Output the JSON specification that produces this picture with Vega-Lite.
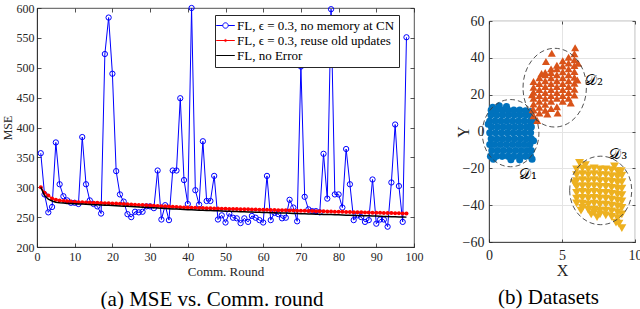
{
 "$schema": "https://vega.github.io/schema/vega-lite/v6.json",
 "background": "white",
 "padding": {"left": 0, "top": 1, "right": 1, "bottom": 0},
 "config": {
  "view": {"stroke": "#262626", "strokeWidth": 0.8},
  "font": "Liberation Serif",
  "axis": {"labelFont": "Liberation Serif", "titleFont": "Liberation Serif", "titleFontWeight": "normal", "labelColor": "#262626", "titleColor": "#262626", "domainColor": "#262626", "tickColor": "#262626", "domainWidth": 0.8, "tickWidth": 0.8, "labelFlush": false, "grid": false},
  "title": {"font": "Liberation Serif", "fontWeight": "normal", "color": "#000000"}
 },
 "datasets": {
  "mse": [
   {"round":1,"noMemory":357,"reuse":300,"noError":300},
   {"round":2,"noMemory":288,"reuse":291,"noError":286},
   {"round":3,"noMemory":258,"reuse":286,"noError":280},
   {"round":4,"noMemory":267,"reuse":281,"noError":277},
   {"round":5,"noMemory":375,"reuse":279,"noError":275},
   {"round":6,"noMemory":305,"reuse":278,"noError":274},
   {"round":7,"noMemory":285,"reuse":277,"noError":273.5},
   {"round":8,"noMemory":278,"reuse":276.5,"noError":273},
   {"round":9,"noMemory":274,"reuse":276,"noError":272.7},
   {"round":10,"noMemory":274,"reuse":275.5,"noError":272.4},
   {"round":11,"noMemory":272,"reuse":275,"noError":272.1},
   {"round":12,"noMemory":384,"reuse":274.8,"noError":271.8},
   {"round":13,"noMemory":305,"reuse":274.6,"noError":271.5},
   {"round":14,"noMemory":278,"reuse":274.4,"noError":271.2},
   {"round":15,"noMemory":272,"reuse":274.2,"noError":270.9},
   {"round":16,"noMemory":268,"reuse":274,"noError":270.6},
   {"round":17,"noMemory":256,"reuse":273.7,"noError":270.3},
   {"round":18,"noMemory":523,"reuse":273.4,"noError":270},
   {"round":19,"noMemory":584,"reuse":273.2,"noError":269.7},
   {"round":20,"noMemory":490,"reuse":273,"noError":269.4},
   {"round":21,"noMemory":327,"reuse":272.6,"noError":269},
   {"round":22,"noMemory":288,"reuse":272.3,"noError":268.7},
   {"round":23,"noMemory":276,"reuse":271.9,"noError":268.3},
   {"round":24,"noMemory":255,"reuse":271.6,"noError":268},
   {"round":25,"noMemory":250,"reuse":271.2,"noError":267.6},
   {"round":26,"noMemory":259,"reuse":270.9,"noError":267.3},
   {"round":27,"noMemory":258,"reuse":270.5,"noError":266.9},
   {"round":28,"noMemory":259,"reuse":270.2,"noError":266.6},
   {"round":29,"noMemory":268,"reuse":269.8,"noError":266.2},
   {"round":30,"noMemory":268,"reuse":269.5,"noError":265.9},
   {"round":31,"noMemory":265,"reuse":269.1,"noError":265.5},
   {"round":32,"noMemory":328,"reuse":268.8,"noError":265.2},
   {"round":33,"noMemory":246,"reuse":268.4,"noError":264.8},
   {"round":34,"noMemory":270,"reuse":268.1,"noError":264.5},
   {"round":35,"noMemory":245,"reuse":267.7,"noError":264.1},
   {"round":36,"noMemory":328,"reuse":267.4,"noError":263.8},
   {"round":37,"noMemory":328,"reuse":267,"noError":263.4},
   {"round":38,"noMemory":449,"reuse":266.7,"noError":263.1},
   {"round":39,"noMemory":312,"reuse":266.3,"noError":262.8},
   {"round":40,"noMemory":272,"reuse":266,"noError":262.5},
   {"round":41,"noMemory":600,"reuse":265.8,"noError":262.2},
   {"round":42,"noMemory":295,"reuse":265.6,"noError":262},
   {"round":43,"noMemory":271,"reuse":265.4,"noError":261.7},
   {"round":44,"noMemory":377,"reuse":265.2,"noError":261.5},
   {"round":45,"noMemory":277,"reuse":265,"noError":261.2},
   {"round":46,"noMemory":277,"reuse":264.8,"noError":261},
   {"round":47,"noMemory":319,"reuse":264.6,"noError":260.7},
   {"round":48,"noMemory":246,"reuse":264.4,"noError":260.5},
   {"round":49,"noMemory":253,"reuse":264.2,"noError":260.2},
   {"round":50,"noMemory":241,"reuse":264,"noError":260},
   {"round":51,"noMemory":256,"reuse":263.8,"noError":259.8},
   {"round":52,"noMemory":249,"reuse":263.7,"noError":259.6},
   {"round":53,"noMemory":248,"reuse":263.5,"noError":259.4},
   {"round":54,"noMemory":240,"reuse":263.3,"noError":259.2},
   {"round":55,"noMemory":248,"reuse":263.2,"noError":259},
   {"round":56,"noMemory":242,"reuse":263,"noError":258.7},
   {"round":57,"noMemory":252,"reuse":262.8,"noError":258.5},
   {"round":58,"noMemory":249,"reuse":262.7,"noError":258.3},
   {"round":59,"noMemory":245,"reuse":262.5,"noError":258.1},
   {"round":60,"noMemory":241,"reuse":262.3,"noError":257.9},
   {"round":61,"noMemory":319,"reuse":262.2,"noError":257.7},
   {"round":62,"noMemory":245,"reuse":262,"noError":257.5},
   {"round":63,"noMemory":257,"reuse":261.8,"noError":257.3},
   {"round":64,"noMemory":255,"reuse":261.7,"noError":257.1},
   {"round":65,"noMemory":248,"reuse":261.5,"noError":256.9},
   {"round":66,"noMemory":249,"reuse":261.3,"noError":256.7},
   {"round":67,"noMemory":279,"reuse":261.2,"noError":256.5},
   {"round":68,"noMemory":266,"reuse":261,"noError":256.2},
   {"round":69,"noMemory":243,"reuse":260.8,"noError":256},
   {"round":70,"noMemory":502,"reuse":260.7,"noError":255.8},
   {"round":71,"noMemory":284,"reuse":260.5,"noError":255.6},
   {"round":72,"noMemory":263,"reuse":260.3,"noError":255.4},
   {"round":73,"noMemory":260,"reuse":260.2,"noError":255.2},
   {"round":74,"noMemory":260,"reuse":260,"noError":255},
   {"round":75,"noMemory":258,"reuse":259.8,"noError":254.8},
   {"round":76,"noMemory":356,"reuse":259.7,"noError":254.6},
   {"round":77,"noMemory":281,"reuse":259.5,"noError":254.4},
   {"round":78,"noMemory":598,"reuse":259.3,"noError":254.2},
   {"round":79,"noMemory":288,"reuse":259.2,"noError":254},
   {"round":80,"noMemory":288,"reuse":259,"noError":253.8},
   {"round":81,"noMemory":266,"reuse":258.8,"noError":253.5},
   {"round":82,"noMemory":364,"reuse":258.7,"noError":253.3},
   {"round":83,"noMemory":305,"reuse":258.5,"noError":253.1},
   {"round":84,"noMemory":245,"reuse":258.3,"noError":252.9},
   {"round":85,"noMemory":253,"reuse":258.2,"noError":252.7},
   {"round":86,"noMemory":250,"reuse":258,"noError":252.5},
   {"round":87,"noMemory":242,"reuse":257.8,"noError":252.3},
   {"round":88,"noMemory":245,"reuse":257.7,"noError":252.1},
   {"round":89,"noMemory":313,"reuse":257.5,"noError":251.9},
   {"round":90,"noMemory":239,"reuse":257.3,"noError":251.7},
   {"round":91,"noMemory":246,"reuse":257.2,"noError":251.5},
   {"round":92,"noMemory":246,"reuse":257,"noError":251.2},
   {"round":93,"noMemory":234,"reuse":256.8,"noError":251},
   {"round":94,"noMemory":308,"reuse":256.7,"noError":250.8},
   {"round":95,"noMemory":405,"reuse":256.5,"noError":250.6},
   {"round":96,"noMemory":302,"reuse":256.3,"noError":250.4},
   {"round":97,"noMemory":242,"reuse":256.2,"noError":250.2},
   {"round":98,"noMemory":551,"reuse":256,"noError":250}
  ],
  "pts": [
   {"c":"D1","x":0.1,"y":-13.5},{"c":"D1","x":0.5,"y":-13.5},{"c":"D1","x":0.9,"y":-13.5},{"c":"D1","x":1.3,"y":-13.5},{"c":"D1","x":1.7,"y":-13.5},{"c":"D1","x":2.1,"y":-13.5},{"c":"D1","x":2.5,"y":-13.5},{"c":"D1","x":2.85,"y":-13.5},
   {"c":"D1","x":0.2,"y":-10.3},{"c":"D1","x":0.6,"y":-10.3},{"c":"D1","x":1.0,"y":-10.3},{"c":"D1","x":1.4,"y":-10.3},{"c":"D1","x":1.8,"y":-10.3},{"c":"D1","x":2.2,"y":-10.3},{"c":"D1","x":2.6,"y":-10.3},{"c":"D1","x":2.9,"y":-10.3},
   {"c":"D1","x":0.05,"y":-7.1},{"c":"D1","x":0.4,"y":-7.1},{"c":"D1","x":0.8,"y":-7.1},{"c":"D1","x":1.2,"y":-7.1},{"c":"D1","x":1.6,"y":-7.1},{"c":"D1","x":2.0,"y":-7.1},{"c":"D1","x":2.4,"y":-7.1},{"c":"D1","x":2.8,"y":-7.1},
   {"c":"D1","x":0.15,"y":-3.9},{"c":"D1","x":0.55,"y":-3.9},{"c":"D1","x":0.95,"y":-3.9},{"c":"D1","x":1.35,"y":-3.9},{"c":"D1","x":1.75,"y":-3.9},{"c":"D1","x":2.15,"y":-3.9},{"c":"D1","x":2.55,"y":-3.9},{"c":"D1","x":2.9,"y":-3.9},
   {"c":"D1","x":0.05,"y":-0.7},{"c":"D1","x":0.45,"y":-0.7},{"c":"D1","x":0.85,"y":-0.7},{"c":"D1","x":1.25,"y":-0.7},{"c":"D1","x":1.65,"y":-0.7},{"c":"D1","x":2.05,"y":-0.7},{"c":"D1","x":2.45,"y":-0.7},{"c":"D1","x":2.85,"y":-0.7},
   {"c":"D1","x":0.17,"y":2.5},{"c":"D1","x":0.57,"y":2.5},{"c":"D1","x":0.97,"y":2.5},{"c":"D1","x":1.37,"y":2.5},{"c":"D1","x":1.77,"y":2.5},{"c":"D1","x":2.17,"y":2.5},{"c":"D1","x":2.57,"y":2.5},{"c":"D1","x":2.9,"y":2.5},
   {"c":"D1","x":0.05,"y":5.7},{"c":"D1","x":0.42,"y":5.7},{"c":"D1","x":0.82,"y":5.7},{"c":"D1","x":1.22,"y":5.7},{"c":"D1","x":1.62,"y":5.7},{"c":"D1","x":2.02,"y":5.7},{"c":"D1","x":2.42,"y":5.7},{"c":"D1","x":2.82,"y":5.7},
   {"c":"D1","x":0.13,"y":8.9},{"c":"D1","x":0.53,"y":8.9},{"c":"D1","x":0.93,"y":8.9},{"c":"D1","x":1.33,"y":8.9},{"c":"D1","x":1.73,"y":8.9},{"c":"D1","x":2.13,"y":8.9},{"c":"D1","x":2.53,"y":8.9},{"c":"D1","x":2.88,"y":8.9},
   {"c":"D1","x":0.15,"y":11.6},{"c":"D1","x":0.5,"y":11.6},{"c":"D1","x":0.9,"y":11.6},{"c":"D1","x":1.3,"y":11.6},{"c":"D1","x":1.7,"y":11.6},{"c":"D1","x":2.1,"y":11.6},{"c":"D1","x":2.5,"y":11.2},{"c":"D1","x":2.85,"y":10.8},
   {"c":"D1","x":0.7,"y":14.0},{"c":"D1","x":1.2,"y":13.6},{"c":"D1","x":0.25,"y":13.2},{"c":"D1","x":3.05,"y":-5.0},{"c":"D1","x":2.95,"y":-15.0},{"c":"D1","x":2.1,"y":-15.4},{"c":"D1","x":0.3,"y":-15.0},{"c":"D1","x":-0.05,"y":4.0},{"c":"D1","x":3.05,"y":6.0},{"c":"D1","x":1.5,"y":-15.3},
   {"c":"D2","x":3.05,"y":8.5},{"c":"D2","x":3.05,"y":11.7},{"c":"D2","x":3.05,"y":14.9},{"c":"D2","x":3.05,"y":18.1},{"c":"D2","x":3.05,"y":21.3},{"c":"D2","x":3.05,"y":24.0},{"c":"D2","x":3.05,"y":27.2},
   {"c":"D2","x":3.45,"y":10.0},{"c":"D2","x":3.45,"y":13.2},{"c":"D2","x":3.45,"y":16.4},{"c":"D2","x":3.45,"y":19.6},{"c":"D2","x":3.45,"y":22.8},{"c":"D2","x":3.45,"y":26.0},{"c":"D2","x":3.45,"y":29.2},
   {"c":"D2","x":3.85,"y":11.6},{"c":"D2","x":3.85,"y":14.8},{"c":"D2","x":3.85,"y":18.0},{"c":"D2","x":3.85,"y":21.2},{"c":"D2","x":3.85,"y":24.4},{"c":"D2","x":3.85,"y":27.6},{"c":"D2","x":3.85,"y":30.8},{"c":"D2","x":3.85,"y":32.0},
   {"c":"D2","x":4.25,"y":12.5},{"c":"D2","x":4.25,"y":16.4},{"c":"D2","x":4.25,"y":19.6},{"c":"D2","x":4.25,"y":22.8},{"c":"D2","x":4.25,"y":26.0},{"c":"D2","x":4.25,"y":29.2},{"c":"D2","x":4.25,"y":32.0},{"c":"D2","x":4.25,"y":34.0},
   {"c":"D2","x":4.65,"y":13.5},{"c":"D2","x":4.65,"y":18.0},{"c":"D2","x":4.65,"y":21.2},{"c":"D2","x":4.65,"y":24.4},{"c":"D2","x":4.65,"y":27.6},{"c":"D2","x":4.65,"y":30.8},{"c":"D2","x":4.65,"y":34.0},{"c":"D2","x":4.65,"y":36.0},
   {"c":"D2","x":5.05,"y":16.4},{"c":"D2","x":5.05,"y":19.6},{"c":"D2","x":5.05,"y":22.8},{"c":"D2","x":5.05,"y":26.0},{"c":"D2","x":5.05,"y":29.2},{"c":"D2","x":5.05,"y":32.4},{"c":"D2","x":5.05,"y":35.6},{"c":"D2","x":5.05,"y":38.4},
   {"c":"D2","x":5.45,"y":18.0},{"c":"D2","x":5.45,"y":21.2},{"c":"D2","x":5.45,"y":24.4},{"c":"D2","x":5.45,"y":27.6},{"c":"D2","x":5.45,"y":30.8},{"c":"D2","x":5.45,"y":34.0},{"c":"D2","x":5.45,"y":37.2},{"c":"D2","x":5.45,"y":40.3},
   {"c":"D2","x":5.85,"y":19.8},{"c":"D2","x":5.85,"y":23.0},{"c":"D2","x":5.85,"y":26.2},{"c":"D2","x":5.85,"y":29.4},{"c":"D2","x":5.85,"y":32.6},{"c":"D2","x":5.85,"y":35.8},{"c":"D2","x":5.85,"y":39.0},{"c":"D2","x":5.85,"y":42.2},
   {"c":"D2","x":4.3,"y":42.5},{"c":"D2","x":3.9,"y":38.0},{"c":"D2","x":5.9,"y":45.5},{"c":"D2","x":4.7,"y":10.0},{"c":"D2","x":3.3,"y":6.0},{"c":"D2","x":3.0,"y":12.0},{"c":"D2","x":5.6,"y":15.5},{"c":"D2","x":6.1,"y":37.0},{"c":"D2","x":4.0,"y":9.5},{"c":"D2","x":6.05,"y":28.0},{"c":"D2","x":2.95,"y":20.0},{"c":"D2","x":3.6,"y":31.5},
   {"c":"D3","x":6.0,"y":-20.5},{"c":"D3","x":6.0,"y":-23.7},{"c":"D3","x":6.0,"y":-26.9},{"c":"D3","x":6.0,"y":-30.1},{"c":"D3","x":6.0,"y":-33.3},{"c":"D3","x":6.0,"y":-36.5},{"c":"D3","x":6.0,"y":-39.0},
   {"c":"D3","x":6.4,"y":-20.0},{"c":"D3","x":6.4,"y":-23.2},{"c":"D3","x":6.4,"y":-26.4},{"c":"D3","x":6.4,"y":-29.6},{"c":"D3","x":6.4,"y":-32.8},{"c":"D3","x":6.4,"y":-36.0},{"c":"D3","x":6.4,"y":-39.2},{"c":"D3","x":6.4,"y":-41.5},
   {"c":"D3","x":6.8,"y":-20.5},{"c":"D3","x":6.8,"y":-23.7},{"c":"D3","x":6.8,"y":-26.9},{"c":"D3","x":6.8,"y":-30.1},{"c":"D3","x":6.8,"y":-33.3},{"c":"D3","x":6.8,"y":-36.5},{"c":"D3","x":6.8,"y":-39.7},{"c":"D3","x":6.8,"y":-42.5},
   {"c":"D3","x":7.2,"y":-20.0},{"c":"D3","x":7.2,"y":-23.2},{"c":"D3","x":7.2,"y":-26.4},{"c":"D3","x":7.2,"y":-29.6},{"c":"D3","x":7.2,"y":-32.8},{"c":"D3","x":7.2,"y":-36.0},{"c":"D3","x":7.2,"y":-39.2},{"c":"D3","x":7.2,"y":-42.4},{"c":"D3","x":7.2,"y":-44.0},
   {"c":"D3","x":7.6,"y":-20.5},{"c":"D3","x":7.6,"y":-23.7},{"c":"D3","x":7.6,"y":-26.9},{"c":"D3","x":7.6,"y":-30.1},{"c":"D3","x":7.6,"y":-33.3},{"c":"D3","x":7.6,"y":-36.5},{"c":"D3","x":7.6,"y":-39.7},{"c":"D3","x":7.6,"y":-42.9},{"c":"D3","x":7.6,"y":-45.0},
   {"c":"D3","x":8.0,"y":-20.5},{"c":"D3","x":8.0,"y":-23.7},{"c":"D3","x":8.0,"y":-26.9},{"c":"D3","x":8.0,"y":-30.1},{"c":"D3","x":8.0,"y":-33.3},{"c":"D3","x":8.0,"y":-36.5},{"c":"D3","x":8.0,"y":-39.7},{"c":"D3","x":8.0,"y":-42.9},{"c":"D3","x":8.0,"y":-45.5},
   {"c":"D3","x":8.4,"y":-21.0},{"c":"D3","x":8.4,"y":-24.2},{"c":"D3","x":8.4,"y":-27.4},{"c":"D3","x":8.4,"y":-30.6},{"c":"D3","x":8.4,"y":-33.8},{"c":"D3","x":8.4,"y":-37.0},{"c":"D3","x":8.4,"y":-40.2},{"c":"D3","x":8.4,"y":-43.4},{"c":"D3","x":8.4,"y":-46.4},
   {"c":"D3","x":8.8,"y":-21.5},{"c":"D3","x":8.8,"y":-24.7},{"c":"D3","x":8.8,"y":-27.9},{"c":"D3","x":8.8,"y":-31.1},{"c":"D3","x":8.8,"y":-34.3},{"c":"D3","x":8.8,"y":-37.5},{"c":"D3","x":8.8,"y":-40.7},{"c":"D3","x":8.8,"y":-43.9},{"c":"D3","x":8.8,"y":-47.0},
   {"c":"D3","x":9.1,"y":-24.0},{"c":"D3","x":9.1,"y":-27.5},{"c":"D3","x":9.1,"y":-31.0},{"c":"D3","x":9.1,"y":-34.5},{"c":"D3","x":9.1,"y":-38.0},{"c":"D3","x":9.1,"y":-41.5},{"c":"D3","x":9.1,"y":-45.0},
   {"c":"D3","x":6.2,"y":-17.0},{"c":"D3","x":6.6,"y":-18.3},{"c":"D3","x":8.6,"y":-19.0},{"c":"D3","x":9.05,"y":-21.5},{"c":"D3","x":8.9,"y":-50.0},{"c":"D3","x":9.1,"y":-52.5},{"c":"D3","x":8.7,"y":-49.5},{"c":"D3","x":7.4,"y":-46.5},{"c":"D3","x":6.3,"y":-43.0},{"c":"D3","x":5.85,"y":-28.0},{"c":"D3","x":7.0,"y":-45.0}
  ],
  "ell": [
   {"c":"D1","x":1.48,"y":-0.9},
   {"c":"D2","x":4.5,"y":23.8},
   {"c":"D3","x":7.65,"y":-32}
  ],
  "lab": [
   {"t":"𝒟₁","x":2.67,"y":-23.2},
   {"t":"𝒟₂","x":7.2,"y":27.8},
   {"t":"𝒟₃","x":8.86,"y":-12.2}
  ]
 },
 "spacing": 30,
 "resolve": {"scale": {"color": "independent", "shape": "independent", "size": "independent"}, "legend": {"color": "independent", "shape": "independent"}},
 "hconcat": [
  {
   "width": 377,
   "height": 239,
   "title": {"text": "(a) MSE vs. Comm. round", "orient": "bottom", "anchor": "middle", "frame": "bounds", "fontSize": 21, "offset": 11},
   "layer": [
    {
     "data": {"name": "mse"},
     "mark": {"type": "line", "color": "#0000ff", "strokeWidth": 1},
     "encoding": {
      "x": {"field": "round", "type": "quantitative", "title": "Comm. Round", "scale": {"domain": [0, 100]},
            "axis": {"orient": "bottom", "values": [0,10,20,30,40,50,60,70,80,90,100], "labelFontSize": 12, "titleFontSize": 13, "tickSize": -4, "labelPadding": 8, "titlePadding": 3}},
      "y": {"field": "noMemory", "type": "quantitative", "title": "MSE", "scale": {"domain": [200, 600]},
            "axis": {"orient": "left", "values": [200,250,300,350,400,450,500,550,600], "labelFontSize": 12, "titleFontSize": 12, "tickSize": -4, "labelPadding": 7, "titlePadding": 2}}
     }
    },
    {
     "data": {"name": "mse"},
     "mark": {"type": "point", "filled": false, "color": "#0000ff", "size": 28, "strokeWidth": 1, "opacity": 1},
     "encoding": {
      "x": {"field": "round", "type": "quantitative", "axis": null},
      "y": {"field": "noMemory", "type": "quantitative", "axis": null}
     }
    },
    {
     "data": {"name": "mse"},
     "mark": {"type": "line", "color": "#ff0000", "strokeWidth": 1.3},
     "encoding": {
      "x": {"field": "round", "type": "quantitative", "axis": {"orient": "top", "values": [0,10,20,30,40,50,60,70,80,90,100], "labels": false, "tickSize": -4, "domain": false, "title": null}},
      "y": {"field": "reuse", "type": "quantitative", "axis": {"orient": "right", "values": [200,250,300,350,400,450,500,550,600], "labels": false, "tickSize": -4, "domain": false, "title": null}}
     }
    },
    {
     "data": {"name": "mse"},
     "mark": {"type": "point", "filled": true, "color": "#ff0000", "size": 16, "opacity": 1},
     "encoding": {
      "x": {"field": "round", "type": "quantitative", "axis": null},
      "y": {"field": "reuse", "type": "quantitative", "axis": null}
     }
    },
    {
     "data": {"name": "mse"},
     "mark": {"type": "line", "color": "#000000", "strokeWidth": 1.5},
     "encoding": {
      "x": {"field": "round", "type": "quantitative", "axis": null},
      "y": {"field": "noError", "type": "quantitative", "axis": null}
     }
    },
    {
     "data": {"values": [{"series": "FL, ϵ = 0.3, no memory at CN"}, {"series": "FL, ϵ = 0.3, reuse old updates"}, {"series": "FL, no Error"}]},
     "mark": {"type": "point", "filled": false, "opacity": 1},
     "encoding": {
      "x": {"field": "round", "type": "quantitative", "axis": null},
      "y": {"field": "MSE", "type": "quantitative", "axis": null},
      "color": {"field": "series", "type": "nominal",
                "scale": {"domain": ["FL, ϵ = 0.3, no memory at CN", "FL, ϵ = 0.3, reuse old updates", "FL, no Error"], "range": ["#0000ff", "#ff0000", "#000000"]},
                "legend": {"orient": "none", "legendX": 178, "legendY": 7, "title": null, "labelFont": "Liberation Serif", "labelFontSize": 13, "labelColor": "#000000", "symbolSize": 144, "symbolStrokeWidth": 1, "strokeColor": "#262626", "fillColor": "#ffffff", "padding": 4, "rowPadding": 1, "labelOffset": 5, "labelLimit": 300}},
      "shape": {"field": "series", "type": "nominal",
                "scale": {"domain": ["FL, ϵ = 0.3, no memory at CN", "FL, ϵ = 0.3, reuse old updates", "FL, no Error"],
                          "range": ["M-1.55,0L-0.45,0M0.45,0L1.55,0M-0.45,0A0.45,0.45 0 1,1 0.45,0A0.45,0.45 0 1,1 -0.45,0", "M-1.55,0L1.55,0M-0.18,0A0.18,0.18 0 1,1 0.18,0A0.18,0.18 0 1,1 -0.18,0", "M-1.55,0L1.55,0"]}}
     }
    }
   ]
  },
  {
   "spacing": 0,
   "vconcat": [
    {
     "width": 146,
     "height": 5,
     "view": {"stroke": null},
     "data": {"values": []},
     "mark": "point"
    },
    {
     "width": 146,
     "height": 221,
     "title": {"text": "(b) Datasets", "orient": "bottom", "anchor": "middle", "frame": "bounds", "fontSize": 21, "offset": 9},
     "resolve": {"scale": {"shape": "independent", "color": "independent", "size": "independent"}},
     "layer": [
      {
       "data": {"name": "pts"},
       "mark": {"type": "point", "filled": true, "opacity": 1},
       "encoding": {
        "x": {"field": "x", "type": "quantitative", "title": "X", "scale": {"domain": [0, 10]},
              "axis": {"orient": "bottom", "values": [0, 5, 10], "grid": true, "gridColor": "#e4e4e4", "labelFontSize": 14, "titleFontSize": 16, "tickSize": -3, "labelPadding": 9, "titlePadding": 0}},
        "y": {"field": "y", "type": "quantitative", "title": "Y", "scale": {"domain": [-60, 60]},
              "axis": {"orient": "left", "values": [-60, -40, -20, 0, 20, 40, 60], "grid": true, "gridColor": "#e4e4e4", "labelFontSize": 14, "titleFontSize": 16, "tickSize": -3, "labelPadding": 8, "titlePadding": -9}},
        "color": {"field": "c", "type": "nominal", "scale": {"domain": ["D1", "D2", "D3"], "range": ["#0072BD", "#D95319", "#EDB120"]}, "legend": null},
        "shape": {"field": "c", "type": "nominal", "scale": {"domain": ["D1", "D2", "D3"], "range": ["circle", "triangle-up", "triangle-down"]}, "legend": null},
        "size": {"field": "c", "type": "nominal", "scale": {"domain": ["D1", "D2", "D3"], "range": [50, 80, 80]}, "legend": null}
       }
      },
      {
       "data": {"name": "ell"},
       "mark": {"type": "point", "filled": false, "size": 4096, "color": "#404040", "strokeWidth": 0.9, "strokeDash": [5, 3], "opacity": 1},
       "encoding": {
        "x": {"field": "x", "type": "quantitative", "axis": {"orient": "top", "values": [0, 5, 10], "labels": false, "tickSize": -3, "domain": false, "grid": false, "title": null}},
        "y": {"field": "y", "type": "quantitative", "axis": {"orient": "right", "values": [-60, -40, -20, 0, 20, 40, 60], "labels": false, "tickSize": -3, "domain": false, "grid": false, "title": null}},
        "shape": {"field": "c", "type": "nominal", "scale": {"domain": ["D1", "D2", "D3"],
                  "range": ["M-0.885,0A0.885,1.05 0 1,1 0.885,0A0.885,1.05 0 1,1 -0.885,0Z", "M-0.99,0A0.99,1.23 0 1,1 0.99,0A0.99,1.23 0 1,1 -0.99,0Z", "M-0.97,0A0.97,1.07 0 1,1 0.97,0A0.97,1.07 0 1,1 -0.97,0Z"]}, "legend": null}
       }
      },
      {
       "data": {"name": "lab"},
       "mark": {"type": "text", "font": "DejaVu Serif", "fontSize": 15, "color": "#000000"},
       "encoding": {
        "x": {"field": "x", "type": "quantitative", "axis": null},
        "y": {"field": "y", "type": "quantitative", "axis": null},
        "text": {"field": "t"}
       }
      }
     ]
    }
   ]
  }
 ]
}
